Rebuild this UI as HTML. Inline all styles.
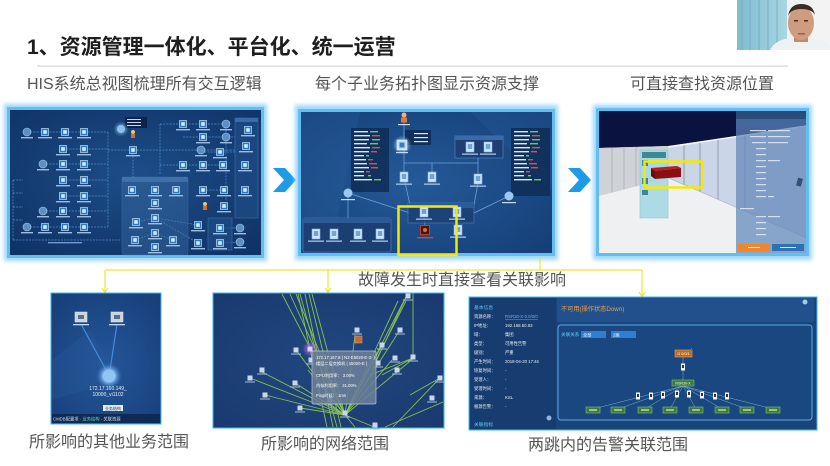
<!DOCTYPE html>
<html><head><meta charset="utf-8">
<style>
html,body{margin:0;padding:0;background:#fff;}
body{width:830px;height:466px;position:relative;overflow:hidden;font-family:"Liberation Sans","Noto Sans CJK SC",sans-serif;}
.t{position:absolute;white-space:nowrap;font-family:"Liberation Sans","Noto Sans CJK SC",sans-serif;}
.cap{font-size:16px;line-height:18px;color:#555;}
svg{position:absolute;left:0;top:0;}
</style></head><body>
<svg width="830" height="466" viewBox="0 0 830 466" xmlns="http://www.w3.org/2000/svg" font-family="Liberation Sans, Noto Sans CJK SC, sans-serif">
<defs>
 <filter id="bl" x="-10%" y="-10%" width="120%" height="120%"><feGaussianBlur stdDeviation="2.2"/></filter>
 <filter id="bl1"><feGaussianBlur stdDeviation="1"/></filter>
 <radialGradient id="rg1" cx="0.5" cy="0.45" r="0.7"><stop offset="0" stop-color="#1d4d88"/><stop offset="1" stop-color="#0f3366"/></radialGradient>
 <radialGradient id="rg2" cx="0.45" cy="0.5" r="0.7"><stop offset="0" stop-color="#245a98"/><stop offset="1" stop-color="#163f78"/></radialGradient>
 <radialGradient id="rgA" cx="0.5" cy="0.55" r="0.7"><stop offset="0" stop-color="#24569a"/><stop offset="1" stop-color="#173f78"/></radialGradient>
 <radialGradient id="rgB" cx="0.5" cy="0.5" r="0.7"><stop offset="0" stop-color="#21477f"/><stop offset="1" stop-color="#193a70"/></radialGradient>
 <radialGradient id="gl" cx="0.5" cy="0.5" r="0.5"><stop offset="0" stop-color="#ffffff"/><stop offset="0.4" stop-color="#9fd4ff"/><stop offset="1" stop-color="#2d6fb8" stop-opacity="0"/></radialGradient>
 <linearGradient id="cur" x1="0" y1="0" x2="1" y2="0"><stop offset="0" stop-color="#7fbccf"/><stop offset="1" stop-color="#a9d6e2"/></linearGradient>
 <g id="sq"><rect x="-3.5" y="-3.5" width="7" height="7" fill="#2f78bf" stroke="#b5defc" stroke-width="0.7"/><rect x="-1.8" y="-1.8" width="3.6" height="3.6" fill="#d5ecff"/><rect x="-7" y="5" width="14" height="1.4" fill="#9fbde2"/></g>
 <g id="ci"><circle r="4" fill="#5d8fc4" stroke="#a8cff0" stroke-width="0.6"/><rect x="-6" y="5" width="12" height="1.4" fill="#9fbde2"/></g>
 <g id="doc"><rect x="-4" y="-5" width="8" height="10" fill="#cfe6fb" stroke="#7fb3e6" stroke-width="0.6"/><rect x="-2.2" y="-3" width="4.4" height="5" fill="#6fa4d8"/><rect x="-8" y="6.5" width="16" height="1.3" fill="#a9c4e6"/></g>
 <g id="sn"><rect x="-2.5" y="-2.5" width="5" height="5" fill="#c8d8ea"/><rect x="-5" y="3.5" width="10" height="1" fill="#a9bfd9"/></g>
 <g id="gn"><rect x="-7" y="-3" width="14" height="6" fill="#3d7a3a" stroke="#7fc07a" stroke-width="0.6"/><rect x="-4" y="-0.6" width="8" height="1.2" fill="#d8f0d0"/></g>
 <g id="wn"><rect x="-2" y="-3.5" width="4" height="7" fill="#f2f4f8"/><rect x="-1" y="-2" width="2" height="3" fill="#333"/></g>
</defs>

<!-- webcam -->
<rect x="737" y="0" width="93" height="50" fill="#eef1f2"/>
<rect x="737" y="0" width="50" height="50" fill="url(#cur)"/>
<g stroke="#6aaec4" stroke-width="1.2" opacity="0.7"><line x1="742" y1="0" x2="742" y2="50"/><line x1="750" y1="0" x2="750" y2="50"/><line x1="759" y1="0" x2="759" y2="50"/><line x1="768" y1="0" x2="768" y2="50"/><line x1="777" y1="0" x2="777" y2="50"/></g>
<rect x="812" y="0" width="18" height="50" fill="#f3f3f3"/>
<path d="M770 50 Q775 40 790 38 L812 38 Q826 40 830 46 L830 50 Z" fill="#eef2f5"/>
<rect x="794" y="34" width="14" height="8" fill="#c08c70"/>
<ellipse cx="801" cy="23" rx="13" ry="17" fill="#cf9c80"/>
<path d="M788 16 Q790 4 801 4 Q813 4 815 15 Q812 9 801 9 Q791 9 788 16Z" fill="#3a2a22"/>
<rect x="794" y="20" width="4" height="1.5" fill="#4a3028"/><rect x="804" y="20" width="4" height="1.5" fill="#4a3028"/>
<rect x="798" y="33" width="7" height="1.5" fill="#9a5a50"/>

<!-- title line -->
<rect x="37" y="65.5" width="751" height="1.3" fill="#d8d8d8"/>

<!-- ============ PANEL 1 ============ -->
<rect x="4" y="104" width="263" height="157" fill="#9dd6fa" filter="url(#bl)"/>
<rect x="7" y="107" width="257" height="151" fill="#62bdf2"/>
<rect x="10" y="110" width="251" height="145" fill="url(#rg1)"/>
<g stroke="#4f8fcf" stroke-width="0.7" fill="none" stroke-dasharray="2 1.2">
 <line x1="27" y1="132" x2="108" y2="132"/><line x1="63" y1="149" x2="108" y2="149"/><line x1="43" y1="164" x2="108" y2="164"/>
 <line x1="63" y1="180" x2="108" y2="180"/><line x1="63" y1="196" x2="108" y2="196"/><line x1="43" y1="211" x2="108" y2="211"/>
 <line x1="27" y1="227" x2="108" y2="227"/><line x1="108" y1="132" x2="108" y2="227"/>
 <line x1="108" y1="150" x2="235" y2="150"/><line x1="133" y1="150" x2="133" y2="177"/>
 <line x1="13" y1="180" x2="13" y2="240"/><line x1="13" y1="180" x2="23" y2="180"/><line x1="13" y1="193" x2="23" y2="193"/><line x1="13" y1="207" x2="23" y2="207"/><line x1="13" y1="220" x2="23" y2="220"/><line x1="13" y1="240" x2="120" y2="240"/>
 <line x1="160" y1="124" x2="226" y2="124"/><line x1="160" y1="124" x2="160" y2="175"/><line x1="160" y1="165" x2="223" y2="165"/>
 <line x1="183" y1="137" x2="235" y2="137"/><line x1="201" y1="152" x2="240" y2="152"/><line x1="226" y1="124" x2="226" y2="200"/>
 <line x1="155" y1="218" x2="136" y2="222"/><line x1="155" y1="218" x2="198" y2="225"/><line x1="155" y1="233" x2="135" y2="240"/><line x1="155" y1="233" x2="173" y2="240"/><line x1="155" y1="218" x2="198" y2="243"/>
 <line x1="203" y1="190" x2="224" y2="190"/><line x1="220" y1="228" x2="240" y2="228"/><line x1="220" y1="243" x2="240" y2="242"/>
</g>
<rect x="122" y="177" width="66" height="78" rx="2" fill="#3a6aa4" opacity="0.45" stroke="#5a8cc6" stroke-width="0.6"/>
<rect x="122" y="177" width="66" height="5" fill="#4a7ab4" opacity="0.7"/>
<rect x="235" y="118" width="23" height="100" fill="#1f4c86" opacity="0.7" stroke="#4f86c2" stroke-width="0.6"/>
<rect x="235" y="118" width="23" height="4" fill="#3b6aa8"/>
<rect x="208" y="218" width="24" height="32" fill="#1f4c86" opacity="0.7" stroke="#4f86c2" stroke-width="0.6"/>
<rect x="125" y="117" width="22" height="11" fill="#0c2447"/>
<g fill="#c9dbf0"><rect x="127" y="119" width="14" height="1"/><rect x="127" y="122" width="14" height="1"/><rect x="127" y="125" width="14" height="1"/></g>
<circle cx="121" cy="129" r="6" fill="#7fb6e8" opacity="0.5" filter="url(#bl1)"/><circle cx="121" cy="129" r="4" fill="#8cc0ee"/>
<circle cx="133" cy="132" r="2" fill="#f0c080"/><rect x="131" y="134" width="4" height="4" fill="#d07030"/>
<use href="#ci" x="27" y="132"/><use href="#sq" x="45" y="132"/><use href="#sq" x="65" y="132"/><use href="#sq" x="84" y="132"/>
<use href="#sq" x="63" y="149"/><use href="#sq" x="84" y="149"/>
<use href="#ci" x="43" y="164"/><use href="#sq" x="63" y="164"/><use href="#sq" x="84" y="164"/>
<use href="#sq" x="63" y="180"/><use href="#sq" x="84" y="180"/>
<use href="#sq" x="63" y="196"/><use href="#sq" x="84" y="196"/>
<use href="#ci" x="43" y="211"/><use href="#sq" x="63" y="211"/><use href="#sq" x="84" y="211"/>
<use href="#ci" x="27" y="227"/><use href="#sq" x="45" y="227"/><use href="#sq" x="65" y="227"/><use href="#sq" x="84" y="227"/>
<use href="#sq" x="133" y="150"/>
<use href="#sq" x="132" y="190"/><use href="#sq" x="155" y="190"/><use href="#sq" x="176" y="190"/>
<use href="#sq" x="155" y="203"/><use href="#sq" x="155" y="218"/><use href="#sq" x="136" y="222"/><use href="#sq" x="155" y="233"/><use href="#sq" x="135" y="240"/><use href="#sq" x="173" y="240"/><use href="#sq" x="155" y="247"/>
<use href="#sq" x="183" y="124"/><use href="#sq" x="203" y="124"/><use href="#ci" x="226" y="124"/>
<use href="#sq" x="203" y="137"/><use href="#ci" x="226" y="137"/>
<use href="#ci" x="201" y="150"/><use href="#sq" x="220" y="152"/>
<use href="#sq" x="183" y="165"/><use href="#sq" x="203" y="165"/><use href="#sq" x="223" y="165"/>
<use href="#sq" x="248" y="130"/><use href="#sq" x="246" y="146"/><use href="#sq" x="245" y="165"/><use href="#sq" x="245" y="190"/>
<use href="#sq" x="203" y="190"/><use href="#sq" x="224" y="190"/>
<circle cx="205" cy="204" r="2" fill="#f0c080"/><rect x="203" y="206" width="4" height="4" fill="#d07030"/><use href="#sq" x="224" y="206"/>
<use href="#sq" x="220" y="228"/><use href="#sq" x="220" y="243"/><use href="#ci" x="240" y="228"/><use href="#ci" x="240" y="242"/>
<use href="#sq" x="198" y="225"/><use href="#sq" x="198" y="243"/>
<rect x="48" y="242" width="34" height="1.4" fill="#6f9ccc"/>

<!-- arrow 1 -->
<polygon points="273,168 285,168 296,180 285,192 273,192 284,180" fill="#1e9be8"/>

<!-- ============ PANEL 2 ============ -->
<rect x="295" y="105" width="263" height="155" fill="#9dd6fa" filter="url(#bl)"/>
<rect x="298" y="109" width="257" height="147" fill="#62bdf2"/>
<rect x="301" y="112" width="251" height="141" fill="url(#rg2)"/>
<polygon points="301,112 360,112 330,253 301,253" fill="#2a62a4" opacity="0.25"/>
<polygon points="470,112 552,112 552,190" fill="#2a62a4" opacity="0.25"/>
<g stroke="#6aa0d8" stroke-width="0.8" fill="none">
 <line x1="404" y1="120" x2="404" y2="178"/><line x1="404" y1="163" x2="478" y2="163"/><line x1="478" y1="158" x2="478" y2="179"/>
 <line x1="432" y1="163" x2="432" y2="177"/><line x1="404" y1="178" x2="410" y2="205"/>
 <line x1="348" y1="193" x2="410" y2="213"/><line x1="509" y1="196" x2="474" y2="213"/><line x1="348" y1="197" x2="348" y2="218"/>
 <line x1="478" y1="183" x2="474" y2="205"/><line x1="424" y1="215" x2="425" y2="226"/>
</g>
<circle cx="404" cy="115" r="2.5" fill="#f3b27a"/><rect x="401" y="117.5" width="6" height="5" fill="#e07b30"/>
<rect x="398" y="124" width="12" height="1.2" fill="#c9dbf0"/>
<rect x="351" y="128" width="38" height="64" fill="#0f2a52" opacity="0.8"/>
<g id="stats">
 <g fill="#dce8f5">
  <rect x="354" y="131" width="14" height="1.4"/><rect x="354" y="135" width="16" height="1.4"/><rect x="354" y="139" width="15" height="1.4"/><rect x="354" y="143" width="13" height="1.4"/><rect x="354" y="147" width="16" height="1.4"/><rect x="354" y="151" width="15" height="1.4"/><rect x="354" y="155" width="10" height="1.4"/><rect x="354" y="159" width="12" height="1.4"/><rect x="354" y="163" width="13" height="1.4"/><rect x="354" y="167" width="15" height="1.4"/><rect x="354" y="171" width="10" height="1.4"/><rect x="354" y="175" width="10" height="1.4"/><rect x="354" y="179" width="18" height="1.4"/>
 </g>
 <g fill="#5bd35e"><rect x="370" y="131" width="8" height="1.4"/><rect x="372" y="139" width="8" height="1.4"/><rect x="370" y="143" width="8" height="1.4"/><rect x="366" y="155" width="3" height="1.4"/><rect x="374" y="179" width="7" height="1.4"/><rect x="368" y="175" width="3" height="1.4"/></g>
 <g fill="#ea4a4a"><rect x="372" y="135" width="8" height="1.4"/><rect x="372" y="147" width="8" height="1.4"/><rect x="371" y="151" width="6" height="1.4"/><rect x="368" y="159" width="5" height="1.4"/><rect x="369" y="163" width="8" height="1.4"/><rect x="371" y="167" width="7" height="1.4"/><rect x="366" y="171" width="4" height="1.4"/></g>
</g>
<rect x="511" y="128" width="39" height="68" fill="#0f2a52" opacity="0.8"/>
<use href="#stats" x="160" y="0"/>
<rect x="405" y="130" width="26" height="15" fill="#0f2a52" opacity="0.85"/>
<g fill="#dce8f5"><rect x="414" y="133" width="14" height="1.2"/><rect x="414" y="137" width="14" height="1.2"/><rect x="414" y="141" width="14" height="1.2"/></g>
<circle cx="402" cy="145" r="8" fill="#8cc4f4" opacity="0.45" filter="url(#bl1)"/>
<rect x="397" y="140" width="10" height="10" fill="#bfe0ff" stroke="#eaf6ff" stroke-width="0.6"/><rect x="399.5" y="142.5" width="5" height="5" fill="#3a7ac0"/>
<rect x="396" y="152" width="12" height="1.2" fill="#c9dbf0"/>
<rect x="455" y="136" width="48" height="22" fill="#1d3f73" stroke="#5a8cc8" stroke-width="0.6"/><rect x="455" y="136" width="48" height="4" fill="#3b6aa8"/>
<use href="#doc" x="470" y="147"/><use href="#doc" x="488" y="147"/>
<use href="#doc" x="404" y="177"/><use href="#doc" x="432" y="177"/><use href="#doc" x="478" y="179"/>
<circle cx="348" cy="193" r="4.5" fill="#9cc8ee"/><rect x="341" y="199" width="14" height="1.2" fill="#c9dbf0"/>
<circle cx="509" cy="196" r="4.5" fill="#9cc8ee"/><rect x="502" y="202" width="14" height="1.2" fill="#c9dbf0"/>
<rect x="303" y="218" width="88" height="34" rx="2" fill="#1d3f73" stroke="#5a8cc8" stroke-width="0.6" opacity="0.95"/><rect x="303" y="218" width="88" height="5" fill="#2c5a96"/>
<use href="#doc" x="316" y="234"/><use href="#doc" x="334" y="234"/><use href="#doc" x="358" y="234"/><use href="#doc" x="380" y="234"/>
<rect x="408" y="203" width="66" height="20" fill="#1d3f73" stroke="#5a8cc8" stroke-width="0.6" opacity="0.8"/><rect x="408" y="203" width="66" height="5" fill="#2a5b9a"/>
<use href="#doc" x="424" y="212"/><use href="#doc" x="457" y="212"/>
<rect x="420.5" y="225.5" width="9" height="9" fill="#4a1608" stroke="#e0451f" stroke-width="0.8"/><circle cx="425" cy="230" r="2" fill="#e56a2a"/>
<rect x="417" y="237" width="16" height="1.3" fill="#e64040"/>
<use href="#doc" x="458" y="230"/>
<rect x="398.5" y="206.5" width="58" height="48.5" fill="none" stroke="#f4ea00" stroke-width="2.5"/>

<!-- arrow 2 -->
<polygon points="568,168 580,168 591,180 580,192 568,192 579,180" fill="#1e9be8"/>

<!-- ============ PANEL 3 ============ -->
<rect x="593" y="105" width="219" height="155" fill="#9dd6fa" filter="url(#bl)"/>
<rect x="596" y="108" width="213" height="148" fill="#62bdf2"/>
<rect x="599" y="111" width="207" height="142" fill="#eceef1"/>
<polygon points="599,111 806,111 806,126 737,136 668,146 599,148" fill="#0a1240"/>
<polygon points="599,148 668,146 668,188 599,196" fill="#cfd2d6"/>
<g stroke="#b0b4ba" stroke-width="1"><line x1="612" y1="148" x2="612" y2="194"/><line x1="624" y1="148" x2="624" y2="192"/><line x1="636" y1="147" x2="636" y2="191"/></g>
<polygon points="668,147 806,126 806,238 668,178" fill="#cbd5e8"/>
<g stroke="#9aa4b4" stroke-width="1.2"><line x1="684" y1="145" x2="684" y2="186"/><line x1="700" y1="143" x2="700" y2="193"/><line x1="718" y1="140" x2="718" y2="200"/><line x1="745" y1="136" x2="745" y2="212"/></g>
<line x1="668" y1="147" x2="806" y2="126" stroke="#f4f6f8" stroke-width="1.5"/>
<line x1="668" y1="178" x2="806" y2="238" stroke="#a0a8b6" stroke-width="1"/>
<polygon points="599,196 668,178 806,238 806,253 599,253" fill="#eef0f2"/>
<rect x="640" y="150" width="28" height="68" fill="#a4d8e4" opacity="0.9"/>
<rect x="640" y="150" width="28" height="68" fill="none" stroke="#8ec6d2" stroke-width="0.6"/>
<g fill="#3d8796"><rect x="642" y="152" width="24" height="6"/><rect x="642" y="160" width="6" height="6"/><rect x="642" y="178" width="6" height="6"/><rect x="642" y="190" width="6" height="5"/></g>
<polygon points="651,168 677,166 681,168 655,171" fill="#b82020"/>
<polygon points="651,168 655,171 655,179 651,176" fill="#6a0a0a"/>
<polygon points="655,171 681,168 681,177 655,179" fill="#8b0f10"/>
<rect x="644.5" y="161.5" width="58" height="26" fill="none" stroke="#f4ea00" stroke-width="2.5"/>
<rect x="736" y="111" width="70" height="142" fill="#5f86b8" opacity="0.72"/>
<rect x="736" y="111" width="70" height="8" fill="#2b4b7a"/>
<rect x="738" y="121" width="66" height="5" fill="#3e6aa0"/>
<g fill="#e4edf8" opacity="0.85">
 <rect x="750" y="130" width="16" height="1.2"/><rect x="768" y="130" width="22" height="1.2"/>
 <rect x="750" y="136" width="16" height="1.2"/><rect x="768" y="136" width="22" height="1.2"/>
 <rect x="752" y="142" width="14" height="1.2"/><rect x="768" y="142" width="20" height="1.2"/>
 <rect x="756" y="148" width="10" height="1.2"/><rect x="756" y="154" width="10" height="1.2"/><rect x="756" y="160" width="10" height="1.2"/><rect x="768" y="160" width="12" height="1.2"/>
 <rect x="756" y="166" width="10" height="1.2"/><rect x="756" y="172" width="10" height="1.2"/><rect x="756" y="178" width="10" height="1.2"/><rect x="756" y="184" width="10" height="1.2"/><rect x="756" y="190" width="10" height="1.2"/><rect x="756" y="196" width="10" height="1.2"/><rect x="768" y="196" width="6" height="1.2"/>
 <rect x="740" y="208" width="14" height="1.2"/><rect x="756" y="216" width="10" height="1.2"/><rect x="768" y="216" width="12" height="1.2"/><rect x="756" y="222" width="10" height="1.2"/><rect x="756" y="228" width="10" height="1.2"/><rect x="756" y="234" width="10" height="1.2"/>
</g>
<rect x="797" y="178" width="5" height="8" fill="#35506e" transform="rotate(15 799 182)"/>
<rect x="738" y="244" width="32" height="7" fill="#f0862a"/>
<rect x="772" y="244" width="32" height="7" fill="#2e6fb5"/>
<rect x="748" y="247" width="12" height="1" fill="#fff"/><rect x="780" y="247" width="16" height="1" fill="#dfe9f5"/>

<!-- yellow connectors -->
<g stroke="#f0e430" stroke-width="1.2" fill="none">
 <line x1="540" y1="257" x2="540" y2="270"/>
 <line x1="105" y1="270" x2="642" y2="270"/>
 <line x1="105" y1="270" x2="105" y2="292"/>
 <line x1="328" y1="270" x2="328" y2="292"/>
 <line x1="642" y1="270" x2="642" y2="296"/>
 <polyline points="102,288 105,292.5 108,288"/>
 <polyline points="325,288 328,292.5 331,288"/>
 <polyline points="639,292 642,296.5 645,292"/>
</g>

<!-- ============ BOTTOM A ============ -->
<rect x="51" y="293" width="110" height="131" fill="url(#rgA)" stroke="#39b6f2" stroke-width="1"/>
<polygon points="52,360 90,330 120,380 52,400" fill="#2a5c9c" opacity="0.3"/>
<line x1="81" y1="324" x2="106" y2="370" stroke="#3f8fe0" stroke-width="1.2"/>
<line x1="117" y1="324" x2="110" y2="370" stroke="#3f8fe0" stroke-width="1.2"/>
<rect x="75" y="312" width="12" height="10" fill="#c9d4e0" stroke="#e8eef5" stroke-width="0.5"/><rect x="78" y="315" width="6" height="4" fill="#5d6f86"/>
<rect x="111" y="312" width="12" height="10" fill="#c9d4e0" stroke="#e8eef5" stroke-width="0.5"/><rect x="114" y="315" width="6" height="4" fill="#5d6f86"/>
<rect x="73" y="324" width="16" height="1.3" fill="#c9d9ee"/><rect x="109" y="324" width="16" height="1.3" fill="#c9d9ee"/>
<circle cx="109" cy="376" r="13" fill="url(#gl)"/>
<circle cx="109" cy="376" r="6" fill="#8ec5f2"/>
<text x="108" y="390" font-size="5" fill="#e8f0fa" text-anchor="middle">172.17.160.149_</text>
<text x="108" y="396" font-size="5" fill="#e8f0fa" text-anchor="middle">10000_vi1102</text>
<rect x="103" y="405" width="20" height="6" fill="#e8eef5"/>
<text x="113" y="409.8" font-size="4" fill="#1a2a40" text-anchor="middle">业务结构</text>
<rect x="52" y="414" width="108" height="9" fill="#0e2a55"/>
<text x="53" y="420.5" font-size="4.3" fill="#cfe0f4">CMDB配置项  ·  <tspan fill="#5fe0c0">业务结构</tspan>  ·  关联资源</text>

<!-- ============ BOTTOM B ============ -->
<rect x="213" y="293" width="231" height="135" fill="url(#rgB)" stroke="#39b6f2" stroke-width="1"/>
<g stroke="#9bd84a" stroke-width="0.9" opacity="0.85">
 <line x1="345" y1="415" x2="282" y2="294"/><line x1="345" y1="415" x2="290" y2="294"/><line x1="345" y1="415" x2="296" y2="294"/>
 <line x1="337" y1="427" x2="300" y2="294"/><line x1="333" y1="427" x2="305" y2="294"/><line x1="341" y1="427" x2="309" y2="294"/>
 <line x1="327" y1="427" x2="298" y2="294"/><line x1="345" y1="415" x2="312" y2="294"/>
 <line x1="345" y1="415" x2="296" y2="350"/><line x1="345" y1="415" x2="250" y2="378"/><line x1="345" y1="415" x2="295" y2="383"/>
 <line x1="345" y1="415" x2="265" y2="395"/><line x1="345" y1="415" x2="300" y2="408"/><line x1="345" y1="415" x2="330" y2="404"/>
 <line x1="345" y1="415" x2="355" y2="335"/><line x1="345" y1="415" x2="392" y2="360"/><line x1="345" y1="415" x2="382" y2="345"/>
 <line x1="345" y1="415" x2="400" y2="330"/><line x1="345" y1="415" x2="415" y2="357"/><line x1="345" y1="415" x2="374" y2="427"/>
 <line x1="345" y1="415" x2="355" y2="427"/><line x1="345" y1="415" x2="408" y2="293"/><line x1="345" y1="415" x2="398" y2="301"/>
 <line x1="413" y1="293" x2="413" y2="358"/><line x1="413" y1="358" x2="370" y2="375"/><line x1="413" y1="358" x2="382" y2="375"/>
 <line x1="408" y1="293" x2="372" y2="370"/><line x1="406" y1="301" x2="376" y2="360"/>
 <line x1="345" y1="415" x2="262" y2="372"/><line x1="345" y1="415" x2="308" y2="370"/>
 <line x1="440" y1="378" x2="393" y2="427"/><line x1="440" y1="378" x2="410" y2="395"/><line x1="443" y1="402" x2="385" y2="427"/>
</g>
<g>
 <use href="#sn" x="357" y="330"/><use href="#sn" x="296" y="350"/><use href="#sn" x="250" y="378"/><use href="#sn" x="262" y="370"/>
 <use href="#sn" x="295" y="383"/><use href="#sn" x="265" y="395"/><use href="#sn" x="300" y="408"/><use href="#sn" x="330" y="400"/>
 <use href="#sn" x="345" y="413"/><use href="#sn" x="395" y="358"/><use href="#sn" x="382" y="345"/><use href="#sn" x="400" y="330"/>
 <use href="#sn" x="413" y="357"/><use href="#sn" x="408" y="296"/><use href="#sn" x="378" y="363"/><use href="#sn" x="397" y="370"/>
 <use href="#sn" x="440" y="378"/><use href="#sn" x="432" y="398"/><use href="#sn" x="375" y="425"/><use href="#sn" x="311" y="360"/>
</g>
<rect x="355" y="336" width="7" height="7" fill="#c06a3a" stroke="#e8a070" stroke-width="0.5"/>
<circle cx="310" cy="349" r="6" fill="#b060e0" opacity="0.55" filter="url(#bl1)"/>
<rect x="307.5" y="346.5" width="5" height="5" fill="#dcd0f0"/>
<rect x="312" y="351" width="64" height="53" rx="1.5" fill="#6b7f99" opacity="0.88" stroke="#c7d3e0" stroke-width="0.7"/>
<text x="316" y="359" font-size="4.2" fill="#fff">172.17.167.8 ( N2-E5020-E-3- )</text>
<text x="316" y="365" font-size="4.2" fill="#fff">楼层二层交换机 ( s5020-E )</text>
<text x="316" y="377" font-size="4.2" fill="#fff">CPU利用率：   3.00%</text>
<text x="316" y="387" font-size="4.2" fill="#fff">内存利用率：   31.00%</text>
<text x="316" y="397" font-size="4.2" fill="#fff">Ping时延：     1ms</text>

<!-- ============ BOTTOM C ============ -->
<rect x="469" y="297" width="348" height="133" fill="#1b4478" stroke="#39b6f2" stroke-width="1"/>
<rect x="470" y="298" width="86" height="131" fill="#163c70"/>
<text x="474" y="309" font-size="4.8" fill="#5fc8f0">基本信息</text>
<g font-size="4.3" fill="#e8f0fa">
 <text x="474" y="318">资源名称：</text><text x="505" y="318" fill="#6fb0f0" text-decoration="underline">RSR30-X-0.0/0/0</text>
 <text x="474" y="327">IP地址：</text><text x="505" y="327">192.168.50.93</text>
 <text x="474" y="336">域：</text><text x="505" y="336">集团</text>
 <text x="474" y="345">类型：</text><text x="505" y="345">可用性告警</text>
 <text x="474" y="354">级别：</text><text x="505" y="354">严重</text>
 <text x="474" y="363">产生时间：</text><text x="505" y="363">2018-04-20 17:46</text>
 <text x="474" y="372">恢复时间：</text><text x="505" y="372">-</text>
 <text x="474" y="381">受理人：</text><text x="505" y="381">-</text>
 <text x="474" y="390">受理时间：</text><text x="505" y="390">-</text>
 <text x="474" y="399">来源：</text><text x="505" y="399">KSL</text>
 <text x="474" y="408">根源告警：</text><text x="505" y="408">-</text>
</g>
<circle cx="549" cy="418" r="2.5" fill="#8cb8e0"/>
<text x="474" y="426" font-size="4.8" fill="#5fc8f0">关联指标</text>
<rect x="557" y="298" width="257" height="24" rx="2" fill="#21508c"/>
<text x="561" y="311" font-size="6.2" fill="#f0a040">不可用(操作状态Down)</text>
<circle cx="805" cy="302" r="2.5" fill="#a8c8e8"/>
<rect x="558" y="325" width="254" height="95" rx="3" fill="#1a477f" stroke="#52aef0" stroke-width="1"/>
<text x="561" y="336" font-size="4.6" fill="#5fc8f0">关联关系</text>
<rect x="581" y="331" width="25" height="7" fill="#2f7fd0"/><text x="583" y="336.5" font-size="4.2" fill="#fff">全部</text>
<rect x="611" y="331" width="25" height="7" fill="#2f7fd0"/><text x="613" y="336.5" font-size="4.2" fill="#fff">2跳</text>
<g stroke="#7fb0d0" stroke-width="0.5">
 <line x1="683" y1="357" x2="683" y2="380"/>
 <line x1="683" y1="386" x2="593" y2="409"/><line x1="683" y1="386" x2="618" y2="409"/><line x1="683" y1="386" x2="645" y2="409"/><line x1="683" y1="386" x2="670" y2="409"/>
 <line x1="683" y1="386" x2="696" y2="409"/><line x1="683" y1="386" x2="722" y2="409"/><line x1="683" y1="386" x2="747" y2="409"/><line x1="683" y1="386" x2="773" y2="409"/>
</g>
<rect x="675" y="350" width="17" height="7" fill="#b86a2a" stroke="#f0a050" stroke-width="0.6"/>
<text x="683.5" y="355" font-size="3.8" fill="#fff" text-anchor="middle">G 0/0/1</text>
<rect x="691" y="348" width="1" height="3" fill="#e04040"/>
<use href="#wn" x="683" y="367"/>
<rect x="672" y="380" width="22" height="6" fill="#3d7a3a" stroke="#7fc07a" stroke-width="0.6"/>
<text x="683" y="384.5" font-size="3.6" fill="#fff" text-anchor="middle">RSR30-X</text>
<use href="#wn" x="638" y="396"/><use href="#wn" x="651" y="396"/><use href="#wn" x="663" y="395"/><use href="#wn" x="677" y="394"/>
<use href="#wn" x="689" y="394"/><use href="#wn" x="702" y="395"/><use href="#wn" x="715" y="396"/><use href="#wn" x="727" y="396"/>
<use href="#gn" x="593" y="410"/><use href="#gn" x="618" y="410"/><use href="#gn" x="645" y="410"/><use href="#gn" x="670" y="410"/>
<use href="#gn" x="696" y="410"/><use href="#gn" x="722" y="410"/><use href="#gn" x="747" y="410"/><use href="#gn" x="773" y="410"/>
</svg>

<div class="t" style="left:27px;top:35px;font-size:21px;line-height:26px;font-weight:bold;color:#1e1e1e;">1、资源管理一体化、平台化、统一运营</div>
<div class="t cap" style="left:27px;top:76px;">HIS系统总视图梳理所有交互逻辑</div>
<div class="t cap" style="left:315px;top:76px;">每个子业务拓扑图显示资源支撑</div>
<div class="t cap" style="left:630px;top:76px;">可直接查找资源位置</div>
<div class="t cap" style="left:358px;top:272px;">故障发生时直接查看关联影响</div>
<div class="t cap" style="left:29px;top:434px;">所影响的其他业务范围</div>
<div class="t cap" style="left:261px;top:436px;">所影响的网络范围</div>
<div class="t cap" style="left:528px;top:437px;">两跳内的告警关联范围</div>
</body></html>
